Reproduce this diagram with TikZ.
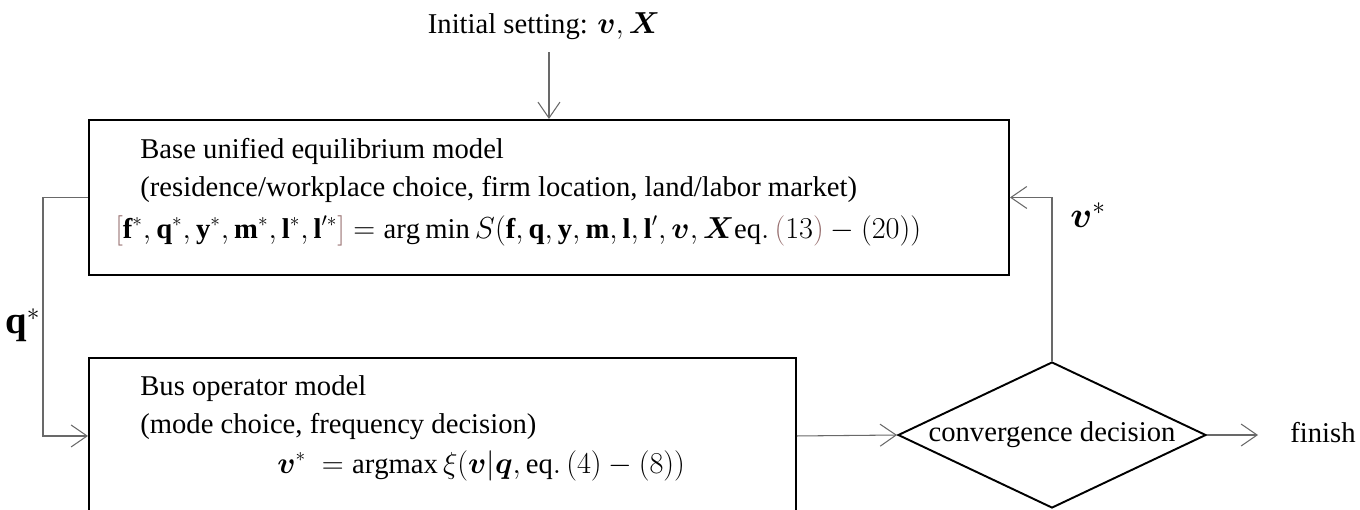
\documentclass[tikz,border=0pt]{standalone}
\usepackage{amsmath, amssymb, bm}
\usepackage{fontspec}
\setmainfont{Liberation Serif}
\usepackage{xcolor}
\usepackage{tikz}
\usetikzlibrary{calc, shapes.geometric, positioning, arrows.meta}

\definecolor{brkcol}{RGB}{150,110,110}
\definecolor{linecol}{RGB}{105,105,105}

\begin{document}
\begin{tikzpicture}[>={Straight Barb[length=3.2mm, width=4.4mm]},
    font=\fontsize{16.3}{20}\selectfont,
    modelbox/.style={draw, line width=1.1pt, anchor=north west, inner sep=0pt},
    boxtext/.style={anchor=base west, inner sep=0pt},
    flow/.style={->, draw=linecol, line width=0.6pt},
    biglabel/.style={font=\fontsize{22}{26}\selectfont, inner sep=0pt}]
    % =================================================================
    % 1. KHUNG HÌNH
    % =================================================================
    \useasboundingbox (0,0) rectangle (27.2,-10.18);
    \clip (0,0) rectangle (27.2,-10.18);

    % Giá trị ban đầu
    \node[anchor=base] (init) at (10.88,-0.66) {Initial setting: $\bm{v},\bm{X}$};

    % =================================================================
    % 2. HAI MÔ HÌNH
    % =================================================================
    % Mô hình cân bằng
    \node[modelbox, minimum width=18.4cm, minimum height=3.1cm] (b1) at (1.76,-2.38) {};
    \node[boxtext] (b1a) at ($(b1.north west)+(1.04,-0.78)$) {Base unified equilibrium model};
    \node[boxtext] (b1b) at ($(b1.north west)+(1.04,-1.54)$)
        {(residence/workplace choice, firm location, land/labor market)};
    \node[boxtext] (b1c) at ($(b1.north west)+(0.54,-2.38)$)
        {$\textcolor{brkcol}{[}\mathbf{f}^{*},\mathbf{q}^{*},\mathbf{y}^{*},\mathbf{m}^{*},\mathbf{l}^{*},\mathbf{l}'^{*}\textcolor{brkcol}{]}
        = \arg\min S(\mathbf{f},\mathbf{q},\mathbf{y},\mathbf{m},\mathbf{l},\mathbf{l}',\bm{v},\bm{X}\mathrm{eq.}\,\textcolor{brkcol}{(}13\textcolor{brkcol}{)}-(20))$};

    % Mô hình nhà khai thác xe buýt
    \node[modelbox, minimum width=14.14cm, minimum height=3.12cm] (b2) at (1.76,-7.14) {};
    \node[boxtext] (b2a) at ($(b2.north west)+(1.04,-0.76)$) {Bus operator model};
    \node[boxtext] (b2b) at ($(b2.north west)+(1.04,-1.52)$) {(mode choice, frequency decision)};
    \node[boxtext] (b2c) at ($(b2.north west)+(3.78,-2.32)$)
        {$\bm{v}^{*}\ = \mathrm{argmax}\,\xi(\bm{v}|\bm{q},\mathrm{eq.}\,(4)-(8))$};

    % Điều kiện hội tụ
    \node[draw, diamond, line width=1.1pt, aspect=2.1, inner sep=0pt,
        minimum width=6.16cm, minimum height=2.92cm] (dec) at (21.04,-8.70) {convergence decision};
    \node[anchor=base west, inner sep=0pt] (fin) at (25.8,-8.84) {finish};

    % =================================================================
    % 3. CÁC MŨI TÊN
    % =================================================================
    \draw[flow] (init.south -| b1.north) ++(0,-0.14) -- (b1.north);
    \draw[flow] (b1.west) -- ++(-0.9,0) |- (b2.west);
    \draw[flow] (b2.east) -- (dec.west);
    \draw[flow] (dec.north) |- (b1.east);
    \draw[flow] (dec.east) -- ($(dec.east -| fin.west)+(-0.64,0)$);

    % Nhãn trên mũi tên
    \node[biglabel] (qlab) at (0.46,-6.50) {$\mathbf{q}^{*}$};
    \node[biglabel] (vlab) at (21.76,-4.30) {$\bm{v}^{*}$};
\end{tikzpicture}
\end{document}
